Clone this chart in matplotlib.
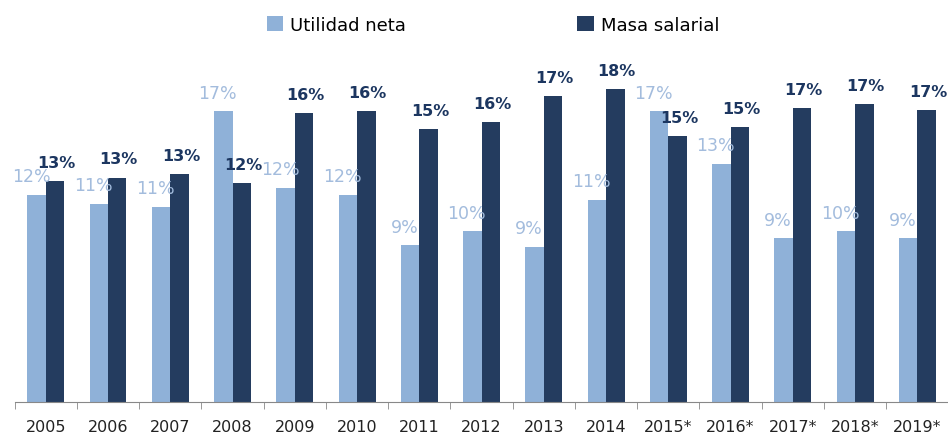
import numpy as np
import matplotlib.pyplot as plt

years = ["2005", "2006", "2007", "2008", "2009", "2010", "2011", "2012",
         "2013", "2014", "2015*", "2016*", "2017*", "2018*", "2019*"]
utilidad = [11.9, 11.4, 11.2, 16.7, 12.3, 11.9, 9.0, 9.8, 8.9, 11.6,
            16.7, 13.7, 9.4, 9.8, 9.4]
masa = [12.7, 12.9, 13.1, 12.6, 16.6, 16.7, 15.7, 16.1, 17.6, 18.0,
        15.3, 15.8, 16.9, 17.1, 16.8]
utilidad_lbl = [12, 11, 11, 17, 12, 12, 9, 10, 9, 11, 17, 13, 9, 10, 9]
masa_lbl = [13, 13, 13, 12, 16, 16, 15, 16, 17, 18, 15, 15, 17, 17, 17]

c_light = "#8fb1d8"
c_dark = "#243c5f"

fig = plt.figure(figsize=(9.48, 4.35), dpi=100)
ax = fig.add_axes([0.0155, 0.0736, 0.985, 0.80])

x = np.arange(len(years))
w = 0.296
b1 = ax.bar(x - w / 2, utilidad, w, color=c_light, label="Utilidad neta")
b2 = ax.bar(x + w / 2, masa, w, color=c_dark, label="Masa salarial")

for xi, v, l in zip(x, utilidad, utilidad_lbl):
    ax.annotate(f"{l}%", (xi - w / 2, v), xytext=(-4, 7), textcoords="offset points",
                ha="center", va="bottom", fontsize=12.5, color="#a3bcdd")
for xi, v, l in zip(x, masa, masa_lbl):
    ax.annotate(f"{l}%", (xi + w / 2, v), xytext=(1, 8), textcoords="offset points",
                ha="center", va="bottom", fontsize=11.5, fontweight="bold",
                color="#1c3660")

ax.set_xlim(-0.5, len(years) - 0.5)
ax.set_ylim(0, 20.0)
ax.set_xticks(x)
ax.set_xticklabels(years, fontsize=11.5, color="#222222")
ax.set_xticks(np.arange(-0.5, len(years)), minor=True)
ax.tick_params(axis="x", which="major", length=0, pad=12)
ax.tick_params(axis="x", which="minor", length=5, color="#888888")
ax.set_yticks([])
for s in ["top", "right", "left"]:
    ax.spines[s].set_visible(False)
ax.spines["bottom"].set_color("#888888")

fig.legend(handles=[b1, b2], loc="center", bbox_to_anchor=(0.52, 0.94), ncol=2,
           frameon=False, fontsize=13, handlelength=0.9, handleheight=0.9,
           columnspacing=9.5, handletextpad=0.4)

fig.savefig("out.png", dpi=100)
